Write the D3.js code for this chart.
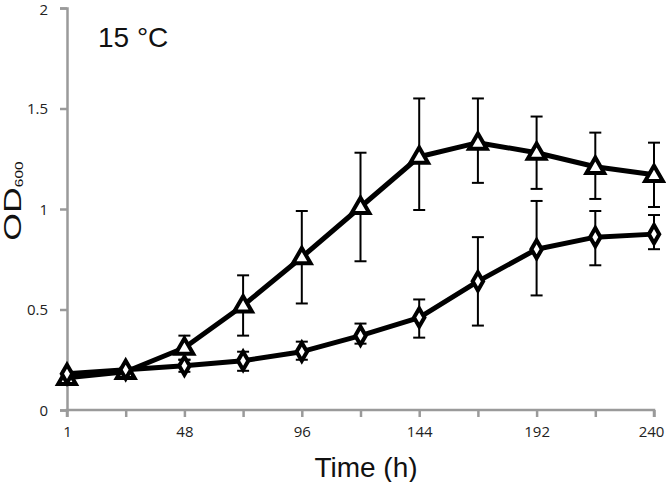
<!DOCTYPE html>
<html><head><meta charset="utf-8">
<script src="https://cdn.jsdelivr.net/npm/d3@7/dist/d3.min.js"></script>
<style>body{margin:0;background:#fff}</style>
</head><body>
<svg id="c" width="666" height="482"></svg>
<script>
const times = [1, 24, 48, 72, 96, 120, 144, 168, 192, 216, 240];
const xTickLabels = ["1", "", "48", "", "96", "", "144", "", "192", "", "240"];
const yTicks = [0, 0.5, 1, 1.5, 2];
const triMean = [0.16, 0.19, 0.31, 0.52, 0.76, 1.01, 1.26, 1.33, 1.28, 1.21, 1.17];
const triLo   = [0.14, 0.17, 0.25, 0.37, 0.53, 0.74, 0.995, 1.13, 1.10, 1.05, 1.01];
const triHi   = [0.18, 0.21, 0.37, 0.67, 0.99, 1.28, 1.55, 1.55, 1.46, 1.38, 1.33];
const diaMean = [0.18, 0.20, 0.22, 0.245, 0.29, 0.37, 0.46, 0.64, 0.80, 0.86, 0.875];
const diaLo   = [0.17, 0.19, 0.19, 0.195, 0.25, 0.33, 0.36, 0.42, 0.57, 0.72, 0.80];
const diaHi   = [0.19, 0.21, 0.25, 0.29, 0.34, 0.43, 0.55, 0.86, 1.04, 0.99, 0.97];

const svg = d3.select("#c");
const x = d3.scalePoint().domain(times).range([67, 654]);
const y = d3.scaleLinear().domain([0, 2]).range([410, 8]);
const axisColor = "#9a9a9a";
const font = "'Liberation Sans',Arial,sans-serif";
const tickFont = "'Open Sans',sans-serif";

// axes
const ya = svg.append("g").attr("transform", "translate(67,0)")
  .call(d3.axisLeft(y).tickValues(yTicks).tickSize(7).tickFormat(d3.format("")));
ya.attr("font-size", null);
ya.select(".domain").attr("stroke", axisColor).attr("stroke-width", 2.5);
ya.selectAll(".tick line").attr("stroke", axisColor).attr("stroke-width", 2.5);
ya.selectAll(".tick text").attr("font-family", tickFont).style("font-size", "15px").attr("fill", "#222").attr("x", -19)
  .attr("dy", d => d === 2 ? "0.45em" : "0.34em");

const xa = svg.append("g").attr("transform", "translate(0,410)")
  .call(d3.axisBottom(x).tickSize(7).tickFormat((d, i) => xTickLabels[i]));
xa.attr("font-size", null);
xa.select(".domain").attr("stroke", axisColor).attr("stroke-width", 2.5).attr("d", "M67,7V0H654V7");
xa.selectAll(".tick line").attr("stroke", axisColor).attr("stroke-width", 2.5);
xa.selectAll(".tick text").attr("font-family", tickFont).style("font-size", "15px").attr("fill", "#222")
  .attr("y", 16).attr("dy", "0.71em")
  .attr("x", (d, i) => i === times.length - 1 ? -3 : 0);

// error bars
function errs(mean, lo, hi) {
  const g = svg.append("g").attr("stroke", "#000").attr("stroke-width", 2);
  times.forEach((t, i) => {
    const cx = x(t);
    g.append("line").attr("x1", cx).attr("x2", cx).attr("y1", y(lo[i])).attr("y2", y(hi[i]));
    g.append("line").attr("x1", cx - 6).attr("x2", cx + 6).attr("y1", y(lo[i])).attr("y2", y(lo[i]));
    g.append("line").attr("x1", cx - 6).attr("x2", cx + 6).attr("y1", y(hi[i])).attr("y2", y(hi[i]));
  });
}
errs(diaMean, diaLo, diaHi);
errs(triMean, triLo, triHi);

const line = d3.line().x((d, i) => x(times[i])).y(d => y(d));
svg.append("path").datum(diaMean).attr("d", line).attr("fill", "none").attr("stroke", "#000").attr("stroke-width", 5).attr("stroke-linejoin", "round");
svg.append("path").datum(triMean).attr("d", line).attr("fill", "none").attr("stroke", "#000").attr("stroke-width", 5).attr("stroke-linejoin", "round");

// markers
const tri = d3.symbol().type(d3.symbolTriangle).size(135);
svg.append("g").selectAll("path").data(triMean).join("path")
  .attr("d", tri).attr("transform", (d, i) => `translate(${x(times[i])},${y(d) + 1})`)
  .attr("fill", "#fff").attr("stroke", "#000").attr("stroke-width", 4).attr("stroke-linejoin", "miter");
const dia = d3.symbol().type(d3.symbolDiamond).size(95);
svg.append("g").selectAll("path").data(diaMean).join("path")
  .attr("d", dia).attr("transform", (d, i) => `translate(${x(times[i])},${y(d)})`)
  .attr("fill", "#fff").attr("stroke", "#000").attr("stroke-width", 4);

// texts
svg.append("text").attr("x", 98).attr("y", 47).attr("font-family", font)
  .attr("font-size", 28).attr("fill", "#111").text("15 °C");
svg.append("text").attr("x", 366).attr("y", 477).attr("text-anchor", "middle")
  .attr("font-family", font).attr("font-size", 28).attr("fill", "#111").text("Time (h)");
const od = svg.append("text").attr("transform", "translate(21,201) rotate(-90) scale(1.55,1)").attr("text-anchor", "middle")
  .attr("font-family", font).attr("font-size", 23).attr("fill", "#111");
od.append("tspan").text("OD");
od.append("tspan").attr("font-size", 10).attr("dy", 2).text("600");
</script>
</body></html>
